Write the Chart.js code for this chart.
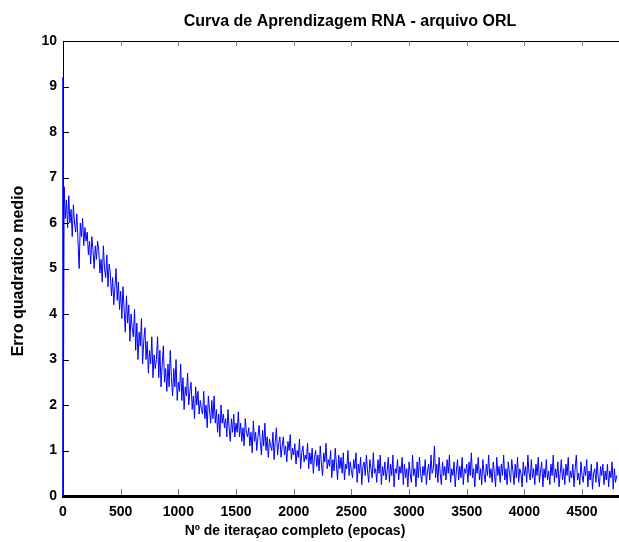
<!DOCTYPE html>
<html lang="pt">
<head>
<meta charset="utf-8">
<title>Curva de Aprendizagem RNA - arquivo ORL</title>
<script src="https://cdn.jsdelivr.net/npm/chart.js@4/dist/chart.umd.min.js"></script>
<style>
  html, body { margin: 0; padding: 0; background: #fff; overflow: hidden; }
  canvas { display: block; }
</style>
</head>
<body>
<canvas id="curve-chart" width="619" height="542"></canvas>
<script>
// ─── Data ──────────────────────────────────────────────────────

const TITLE = 'Curva de Aprendizagem RNA - arquivo ORL';
const X_TITLE = 'Nº de iteraçao completo (epocas)';
const Y_TITLE = 'Erro quadratico medio';

const X_TICKS = [0, 500, 1000, 1500, 2000, 2500, 3000, 3500, 4000, 4500];
const Y_TICKS = [0, 1, 2, 3, 4, 5, 6, 7, 8, 9, 10];

// first two recorded epochs (spike at the start, then the zero on the left edge)
const FIRST_EPOCHS = [0, 1];
const FIRST_ERRO = [9.2, 0];

// error read every 10 epochs, starting at epoch 10 (one row = 100 epochs)
const EPOCH_STEP = 10;
const ERRO = [
  6.8, 6.1, 6.5, 5.9, 6.6, 6.0, 6.3, 5.7, 6.4, 6.0,
  5.8, 6.2, 5.6, 5.0, 6.0, 5.7, 6.1, 5.5, 5.9, 5.6,
  5.8, 5.3, 5.6, 5.1, 5.7, 5.4, 5.0, 5.5, 5.2, 5.6,
  5.4, 4.9, 5.2, 4.7, 5.5, 5.0, 4.8, 5.3, 4.6, 5.1,
  4.9, 4.4, 4.8, 4.2, 4.6, 5.0, 4.3, 4.7, 4.1, 4.5,
  3.9, 4.6, 4.1, 3.6, 4.4, 3.8, 4.2, 3.4, 4.0, 3.7,
  3.5, 4.1, 3.2, 3.8, 3.0, 3.6, 3.3, 3.9, 2.9, 3.4,
  3.7, 3.0, 3.4, 2.7, 3.2, 2.9, 3.5, 2.6, 3.1, 2.8,
  3.0, 3.5, 2.6, 3.2, 2.4, 2.9, 3.3, 2.5, 2.8, 2.3,
  2.9, 2.4, 3.2, 2.6, 2.2, 2.8, 2.4, 3.0, 2.1, 2.5,
  2.3, 2.9, 2.1, 2.6, 1.9, 2.4, 2.2, 2.7, 2.0, 2.3,
  2.5, 1.9, 2.2, 1.7, 2.4, 2.0, 2.3, 1.8, 2.1, 1.9,
  1.8, 2.3, 1.7, 2.0, 1.5, 2.2, 1.9, 1.6, 2.1, 1.7,
  2.2, 1.6, 1.9, 1.4, 1.8, 1.3, 2.0, 1.6, 1.8, 1.5,
  1.7, 1.3, 1.9, 1.5, 1.2, 1.7, 1.4, 1.8, 1.3, 1.6,
  1.4, 1.85, 1.3, 1.6, 1.2, 1.5, 1.1, 1.7, 1.4, 1.3,
  1.5, 1.1, 1.4, 0.95, 1.65, 1.2, 1.4, 1.0, 1.3, 1.55,
  1.2, 0.9, 1.45, 1.1, 1.6, 1.0, 1.3, 0.85, 1.25, 1.1,
  1.0, 1.4, 0.8, 1.2, 1.5, 0.9, 1.15, 1.3, 0.85, 1.1,
  1.3, 0.9, 1.1, 0.75, 1.2, 1.0, 1.35, 0.8, 1.05, 0.9,
  1.15, 0.7, 1.0, 0.85, 1.25, 0.6, 0.95, 1.1, 0.75, 0.9,
  0.8, 1.16, 0.6, 0.95, 0.7, 1.05, 0.5, 0.85, 1.0, 0.65,
  0.9, 0.55, 1.1, 0.7, 0.45, 0.95, 0.75, 1.16, 0.6, 0.8,
  0.65, 1.0, 0.4, 0.8, 0.55, 1.05, 0.7, 0.35, 0.9, 0.6,
  0.85, 0.5, 0.95, 0.35, 0.7, 0.6, 1.0, 0.45, 0.75, 0.55,
  0.4, 0.8, 0.6, 0.95, 0.3, 0.7, 0.5, 0.85, 0.25, 0.65,
  0.75, 0.45, 0.9, 0.55, 0.3, 0.8, 0.6, 0.4, 0.95, 0.5,
  0.6, 0.3, 0.8, 0.5, 0.9, 0.25, 0.65, 0.45, 0.75, 0.35,
  0.55, 0.85, 0.3, 0.7, 0.45, 0.9, 0.2, 0.6, 0.5, 0.8,
  0.35, 0.65, 0.5, 0.85, 0.25, 0.7, 0.4, 0.6, 0.2, 0.75,
  0.5, 0.3, 0.9, 0.45, 0.6, 0.2, 0.75, 0.4, 0.85, 0.5,
  0.3, 0.65, 0.45, 0.8, 0.25, 0.55, 0.7, 0.35, 0.9, 0.5,
  0.6, 1.1, 0.4, 0.7, 0.3, 0.85, 0.5, 0.25, 0.75, 0.45,
  0.65, 0.35, 0.8, 0.5, 0.9, 0.3, 0.6, 0.45, 0.75, 0.2,
  0.55, 0.8, 0.35, 0.65, 0.4, 0.85, 0.25, 0.6, 0.5, 0.7,
  0.3, 0.75, 0.45, 0.95, 0.4, 0.6, 0.2, 0.7, 0.5, 0.85,
  0.35, 0.6, 0.25, 0.8, 0.5, 0.3, 0.7, 0.45, 0.9, 0.4,
  0.6, 0.3, 0.75, 0.5, 0.2, 0.85, 0.45, 0.65, 0.3, 0.7,
  0.45, 0.9, 0.35, 0.6, 0.25, 0.75, 0.5, 0.3, 0.8, 0.55,
  0.25, 0.7, 0.4, 0.85, 0.3, 0.6, 0.5, 0.2, 0.75, 0.45,
  0.65, 0.3, 0.9, 0.5, 0.35, 0.8, 0.4, 0.6, 0.25, 0.7,
  0.45, 0.85, 0.3, 0.55, 0.75, 0.2, 0.6, 0.4, 0.8, 0.35,
  0.55, 0.25, 0.7, 0.45, 0.9, 0.3, 0.6, 0.4, 0.75, 0.2,
  0.5, 0.8, 0.35, 0.6, 0.25, 0.7, 0.45, 0.85, 0.3, 0.55,
  0.4, 0.7, 0.2, 0.6, 0.9, 0.35, 0.5, 0.25, 0.75, 0.45,
  0.3, 0.65, 0.45, 0.8, 0.2, 0.55, 0.35, 0.7, 0.15, 0.5,
  0.6, 0.3, 0.75, 0.4, 0.2, 0.65, 0.45, 0.7, 0.25, 0.55,
  0.35, 0.7, 0.2, 0.55, 0.4, 0.75, 0.15, 0.6, 0.3, 0.45,
];

const X_MAX = 4820;
const FONT = '"Liberation Sans", Arial, sans-serif';

// ─── Helpers ───────────────────────────────────────────────────

function buildPoints() {
  const pts = FIRST_EPOCHS.map((x, i) => ({ x, y: FIRST_ERRO[i] }));
  ERRO.forEach((y, i) => pts.push({ x: (i + 1) * EPOCH_STEP, y }));
  return pts;
}

// MATLAB-like frame: top border, inward tick marks, titles
const framePlugin = {
  id: 'frame',
  afterDraw(chart) {
    const { ctx, chartArea: a, scales } = chart;
    ctx.save();

    ctx.strokeStyle = '#000';
    ctx.lineWidth = 1;
    ctx.beginPath();
    ctx.moveTo(a.left, a.top + 0.5);
    ctx.lineTo(a.right, a.top + 0.5);
    ctx.stroke();

    ctx.strokeStyle = '#777';
    X_TICKS.slice(1).forEach(v => {
      const px = Math.round(scales.x.getPixelForValue(v)) + 0.5;
      ctx.beginPath();
      ctx.moveTo(px, a.bottom - 1);
      ctx.lineTo(px, a.bottom - 7);
      ctx.moveTo(px, a.top);
      ctx.lineTo(px, a.top + 5);
      ctx.stroke();
    });

    ctx.strokeStyle = '#000';
    Y_TICKS.slice(1, -1).forEach(v => {
      const py = Math.round(scales.y.getPixelForValue(v)) + 0.5;
      ctx.beginPath();
      ctx.moveTo(a.left, py);
      ctx.lineTo(a.left + 6, py);
      ctx.stroke();
    });

    ctx.fillStyle = '#000';
    ctx.textAlign = 'center';
    ctx.textBaseline = 'alphabetic';
    ctx.font = `bold 16px ${FONT}`;
    ctx.fillText(TITLE, 350, 26);

    ctx.font = `bold 14px ${FONT}`;
    ctx.fillText(X_TITLE, 295, 535);

    ctx.translate(19, 271);
    ctx.rotate(-Math.PI / 2);
    ctx.textBaseline = 'middle';
    ctx.font = `bold 16px ${FONT}`;
    ctx.fillText(Y_TITLE, 0, 0);

    ctx.restore();
  },
};

// ─── Chart ─────────────────────────────────────────────────────

function renderCurve() {
  const canvas = document.getElementById('curve-chart');

  new Chart(canvas, {
    type: 'line',
    data: {
      datasets: [{
        data: buildPoints(),
        borderColor: '#0000ff',
        borderWidth: 1,
        pointRadius: 0,
        tension: 0,
        fill: false,
        clip: { left: 1, top: 0, right: 0, bottom: 0 },
      }],
    },
    options: {
      responsive: false,
      animation: false,
      devicePixelRatio: 1,
      layout: { padding: { top: 41, right: 0, bottom: 0, left: 0 } },
      plugins: {
        legend: { display: false },
        tooltip: { enabled: false },
      },
      scales: {
        x: {
          type: 'linear',
          min: 0,
          max: X_MAX,
          afterFit: s => { s.height = 46; },
          afterBuildTicks: s => { s.ticks = X_TICKS.map(v => ({ value: v })); },
          ticks: {
            callback: v => String(v),
            color: '#000',
            padding: 8,
            maxRotation: 0,
            font: { family: FONT, size: 14, weight: 'bold' },
          },
          grid: { display: false, drawTicks: false },
          border: { color: '#000', width: 3 },
        },
        y: {
          min: 0,
          max: 10,
          afterFit: s => { s.width = 63; },
          afterBuildTicks: s => { s.ticks = Y_TICKS.map(v => ({ value: v })); },
          ticks: {
            callback: v => String(v),
            color: '#000',
            padding: 6,
            font: { family: FONT, size: 14, weight: 'bold' },
          },
          grid: { display: false, drawTicks: false },
          border: { color: '#000', width: 1 },
        },
      },
    },
    plugins: [framePlugin],
  });
}

document.addEventListener('DOMContentLoaded', renderCurve);
</script>
</body>
</html>
